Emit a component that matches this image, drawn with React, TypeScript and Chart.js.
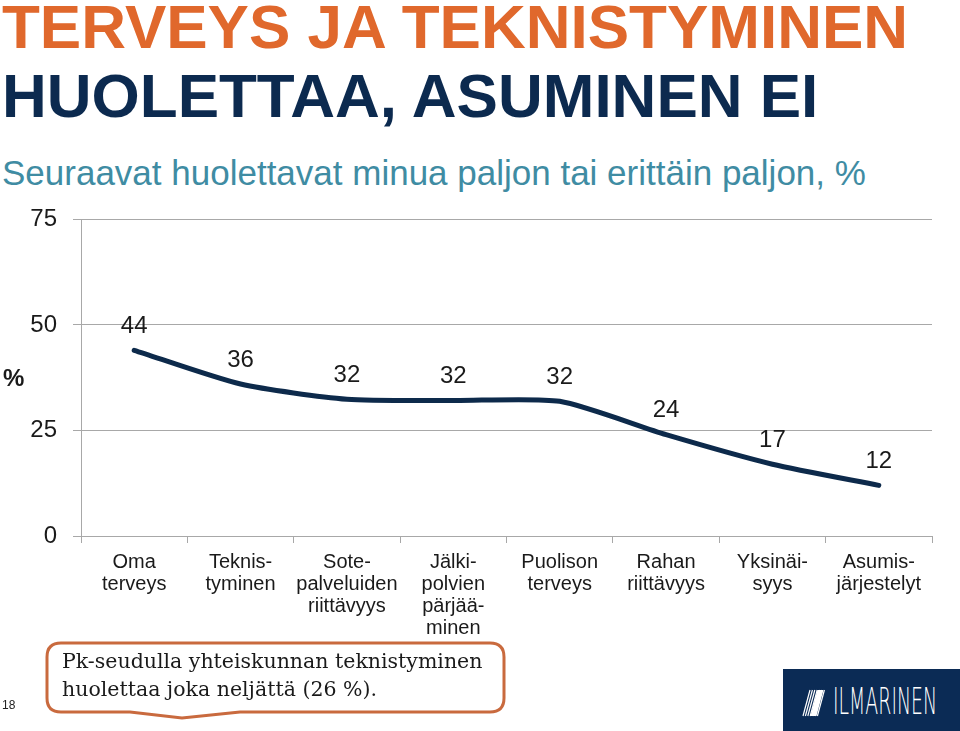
import React, { useEffect, useRef } from "react";
import { Chart, registerables } from "chart.js";

Chart.register(...registerables);

const categories: string[][] = [
  ["Oma", "terveys"],
  ["Teknis-", "tyminen"],
  ["Sote-", "palveluiden", "riittävyys"],
  ["Jälki-", "polvien", "pärjää-", "minen"],
  ["Puolison", "terveys"],
  ["Rahan", "riittävyys"],
  ["Yksinäi-", "syys"],
  ["Asumis-", "järjestelyt"],
];
const worryValues: number[] = [44, 36, 32.4, 32.1, 31.9, 24, 17, 12];
const yTicks: number[] = [0, 25, 50, 75];

const FONT = "'Liberation Sans', Arial, sans-serif";

const valueLabelPlugin = {
  id: "valueLabels",
  afterDatasetsDraw(chart: any) {
    const ctx = chart.ctx;
    const meta = chart.getDatasetMeta(0);
    ctx.save();
    ctx.font = `24px ${FONT}`;
    ctx.fillStyle = "#1a1a1a";
    ctx.textAlign = "center";
    ctx.textBaseline = "middle";
    meta.data.forEach((pt: any, i: number) => {
      const v = chart.data.datasets[0].data[i] as number;
      ctx.fillText(String(Math.round(v)), pt.x, pt.y - 24);
    });
    ctx.restore();
  },
};

function LineChart() {
  const ref = useRef<HTMLCanvasElement | null>(null);
  useEffect(() => {
    if (!ref.current) return;
    const chart = new Chart(ref.current, {
      type: "line",
      data: {
        labels: categories,
        datasets: [
          {
            data: worryValues,
            borderColor: "#0d2a4b",
            borderWidth: 5,
            borderCapStyle: "round",
            borderJoinStyle: "round",
            pointRadius: 0,
            tension: 0.22,
            fill: false,
          },
        ],
      },
      options: {
        responsive: false,
        animation: false,
        layout: { padding: { left: 0, right: 28, top: 0, bottom: 0 } },
        plugins: { legend: { display: false }, tooltip: { enabled: false } },
        scales: {
          x: {
            offset: true,
            grid: {
              offset: true,
              drawOnChartArea: false,
              drawTicks: true,
              tickLength: 7,
              color: "#a8a8a8",
            },
            border: { display: true, color: "#a8a8a8" },
            ticks: {
              autoSkip: false,
              maxRotation: 0,
              minRotation: 0,
              padding: 8,
              color: "#1a1a1a",
              font: { family: FONT, size: 20, lineHeight: 1.1 },
            },
            afterFit: (s: any) => {
              s.height = 114;
            },
          },
          y: {
            min: 0,
            max: 75,
            afterBuildTicks: (s: any) => {
              s.ticks = yTicks.map((v) => ({ value: v }));
            },
            grid: { color: "#a8a8a8", tickLength: 8, drawTicks: true },
            border: { display: true, color: "#a8a8a8" },
            ticks: {
              padding: 16,
              color: "#1a1a1a",
              font: { family: FONT, size: 24 },
            },
            afterFit: (s: any) => {
              s.width = 81;
            },
          },
        },
      },
      plugins: [valueLabelPlugin],
    });
    return () => chart.destroy();
  }, []);
  return (
    <canvas
      ref={ref}
      width={960}
      height={461}
      style={{ position: "absolute", left: 0, top: 189, width: 960, height: 461 }}
    />
  );
}

export default function App() {
  return (
    <div
      style={{
        position: "fixed",
        left: 0,
        top: 0,
        width: 960,
        height: 731,
        background: "#ffffff",
        overflow: "hidden",
        fontFamily: FONT,
      }}
    >
      <div
        style={{
          position: "absolute",
          left: 2,
          top: -4,
          fontSize: 62,
          lineHeight: "62px",
          fontWeight: 700,
          color: "#e0682c",
          whiteSpace: "nowrap",
        }}
      >
        TERVEYS JA TEKNISTYMINEN
      </div>
      <div
        style={{
          position: "absolute",
          left: 2,
          top: 65,
          fontSize: 62,
          lineHeight: "62px",
          fontWeight: 700,
          color: "#0c2a4f",
          whiteSpace: "nowrap",
        }}
      >
        HUOLETTAA, ASUMINEN EI
      </div>
      <div
        style={{
          position: "absolute",
          left: 2,
          top: 155,
          fontSize: 35,
          lineHeight: "35px",
          color: "#3f8ca3",
          whiteSpace: "nowrap",
        }}
      >
        Seuraavat huolettavat minua paljon tai erittäin paljon, %
      </div>
      <LineChart />
      <div
        style={{
          position: "absolute",
          left: 3,
          top: 364,
          fontSize: 24,
          lineHeight: "28px",
          fontWeight: 700,
          color: "#1a1a1a",
        }}
      >
        %
      </div>
      <svg
        width={560}
        height={131}
        style={{ position: "absolute", left: 0, top: 600 }}
      >
        <path
          d="M 61 43 H 490 Q 504 43 504 57 V 98 Q 504 112 490 112 H 240 L 182 118 L 130 112 H 61 Q 47 112 47 98 V 57 Q 47 43 61 43 Z"
          fill="#ffffff"
          stroke="#c96a3e"
          strokeWidth={3}
        />
      </svg>
      <div
        style={{
          position: "absolute",
          left: 62,
          top: 647,
          fontFamily: "'DejaVu Serif', Georgia, serif",
          fontSize: 20.5,
          lineHeight: "28px",
          color: "#1a1a1a",
          whiteSpace: "nowrap",
        }}
      >
        Pk-seudulla yhteiskunnan teknistyminen
        <br />
        huolettaa joka neljättä (26 %).
      </div>
      <div
        style={{
          position: "absolute",
          left: 2,
          top: 698,
          fontSize: 12,
          lineHeight: "14px",
          color: "#222",
        }}
      >
        18
      </div>
      <div
        style={{
          position: "absolute",
          left: 783,
          top: 669,
          width: 177,
          height: 62,
          background: "#0b2b55",
        }}
      >
        <svg width={24} height={30} style={{ position: "absolute", left: 19, top: 19 }}>
          {[0, 1, 2, 3, 4, 5, 6].map((i) => (
            <line
              key={i}
              x1={8 + i * 2.4}
              y1={2}
              x2={1 + i * 2.4}
              y2={28}
              stroke="#ffffff"
              strokeWidth={1.2}
            />
          ))}
          <rect x={16} y={2} width={6} height={26} fill="#ffffff" transform="skewX(-15)" />
        </svg>
        <div
          style={{
            position: "absolute",
            left: 50,
            top: 14,
            fontFamily: "'DejaVu Sans ExtraLight', 'DejaVu Sans', sans-serif",
            fontWeight: 200,
            fontSize: 37,
            lineHeight: "37px",
            color: "#ffffff",
            whiteSpace: "nowrap",
            transform: "scaleX(0.51)",
            transformOrigin: "left top",
          }}
        >
          ILMARINEN
        </div>
      </div>
    </div>
  );
}
